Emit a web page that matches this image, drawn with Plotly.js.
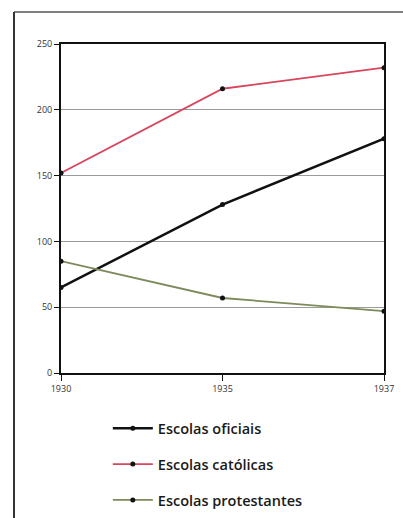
<!DOCTYPE html>
<html><head><meta charset="utf-8">
<script src="https://cdn.plot.ly/plotly-3.0.1.min.js"></script>
<style>body{margin:0;background:#fff}#c{width:403px;height:518px}</style>
</head><body><div id="c"></div>
<script>
const years = ['1930','1935','1937'];
const oficiais = [65, 128, 178];
const catolicas = [152, 216, 232];
const protestantes = [85, 57, 47];
const names = ['Escolas oficiais','Escolas católicas','Escolas protestantes'];
const colors = ['#111111','#d8455c','#7d8a5a'];
const widths = [2.5, 1.8, 1.8];
const series = [oficiais, catolicas, protestantes];
const data = series.map((s,i)=>({
  x: years, y: s, name: names[i], type:'scatter', mode:'lines+markers',
  line:{color:colors[i], width:widths[i]},
  marker:{color:'#111', size:5},
  legendgroup:'g'+i
}));
const layout = {
  width:403, height:518,
  margin:{l:61, r:19, t:44, b:145, autoexpand:false},
  paper_bgcolor:'#fff', plot_bgcolor:'#fff',
  font:{family:'Open Sans, sans-serif', color:'#222'},
  xaxis:{type:'category', range:[0,2], showgrid:false, zeroline:false,
    showline:true, linecolor:'#111', linewidth:2, mirror:true,
    ticks:'outside', ticklen:6, tickcolor:'#111', tickfont:{size:9, color:'#333'}},
  yaxis:{range:[0,250], dtick:50, showgrid:true, gridcolor:'#9a9a9a', gridwidth:1,
    zeroline:false, showline:true, linecolor:'#111', linewidth:2, mirror:true,
    ticks:'outside', ticklen:5, tickcolor:'#111', tickfont:{size:9, color:'#333'}},
  showlegend:true,
  legend:{orientation:'v', x:0.145, xanchor:'left', yref:'container', y:0.204, yanchor:'top',
    traceorder:'grouped', tracegroupgap:14, itemwidth:40,
    font:{size:14.5, color:'#1a1a1a', weight:600},
    bgcolor:'rgba(0,0,0,0)'},
  shapes:[
    {type:'line', xref:'paper', yref:'paper', x0:-0.1455, x1:1.06, y0:1.0974, y1:1.0974, line:{color:'#555', width:1.5}},
    {type:'line', xref:'paper', yref:'paper', x0:-0.1455, x1:-0.1455, y0:1.0974, y1:-0.45, line:{color:'#333', width:2}}
  ]
};
Plotly.newPlot('c', data, layout, {displayModeBar:false, staticPlot:true});
</script></body></html>
